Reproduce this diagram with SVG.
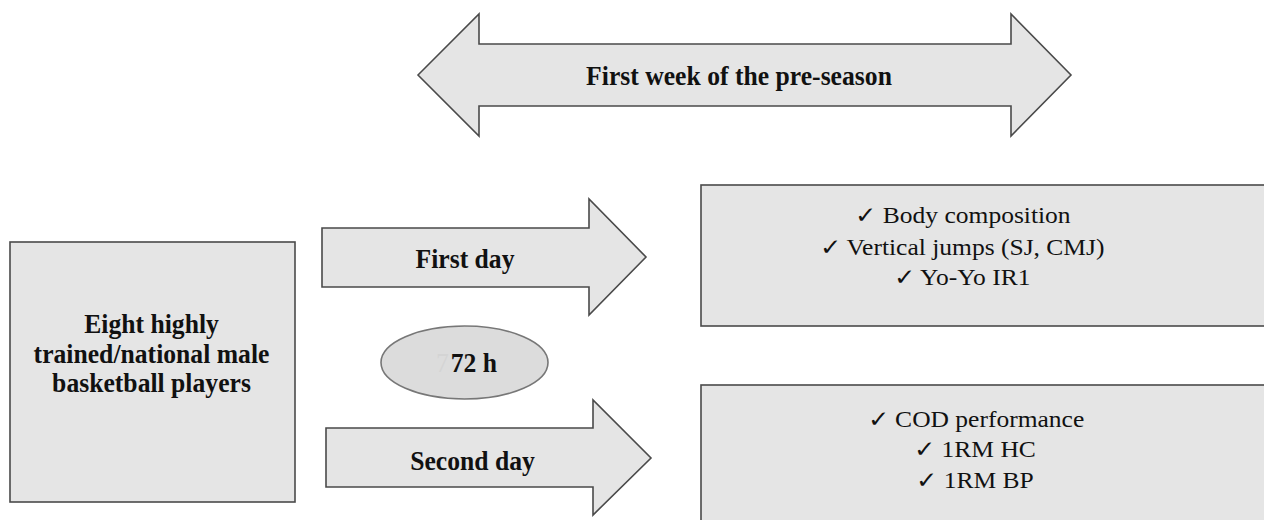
<svg xmlns="http://www.w3.org/2000/svg" width="1264" height="520" viewBox="0 0 1264 520">
<style>
.shape{fill:#e5e5e5;stroke:#4a4a4a;stroke-width:1.6;stroke-linejoin:miter}
.b{font-family:"Liberation Serif","Times New Roman",serif;font-weight:bold;font-size:27px;fill:#111;text-anchor:middle}
.r{font-family:"Liberation Serif","Times New Roman",serif;font-size:23px;fill:#111;text-anchor:middle}
</style>
<rect width="1264" height="520" fill="#fff"/>
<g id="connectors">
<g id="week-arrow">
<polygon class="shape" points="418,75 479,14 479,44 1011,44 1011,14 1071,75 1011,136 1011,106 479,106 479,136"/>
<text class="b" transform="translate(739 85) scale(0.95 1)">First week of the pre-season</text>
</g>
<g id="first-day-arrow">
<polygon class="shape" points="322,228 589,228 589,199 646,257 589,315 589,287 322,287"/>
<text class="b" transform="translate(465 268) scale(0.95 1)">First day</text>
</g>
<g id="second-day-arrow">
<polygon class="shape" points="326,428 593,428 593,400 651,458 593,515 593,487 326,487"/>
<text class="b" transform="translate(472.5 470) scale(0.95 1)">Second day</text>
</g>
</g>
<g id="players">
<rect class="shape" x="10" y="242" width="285" height="260"/>
<text class="b" transform="translate(151.5 333) scale(0.95 1)">Eight highly</text>
<text class="b" transform="translate(151.5 363) scale(0.95 1)">trained/national male</text>
<text class="b" transform="translate(151.5 392) scale(0.95 1)">basketball players</text>
</g>
<g id="interval">
<ellipse class="shape" cx="464.5" cy="362.5" rx="83.5" ry="36.5" style="fill:#dcdcdc;stroke:#777"/>
<text class="b" style="text-anchor:start" transform="translate(436 372) scale(0.95 1)"><tspan fill="#d4d4d4" font-weight="normal">7</tspan><tspan dx="2">72 h</tspan></text>
</g>
<g id="day1-tests">
<rect class="shape" x="701" y="185" width="580" height="141"/>
<text class="r" transform="translate(963 223) scale(1.11 1)">✓  Body composition</text>
<text class="r" transform="translate(962 255) scale(1.11 1)">✓  Vertical jumps (SJ, CMJ)</text>
<text class="r" transform="translate(962 285) scale(1.11 1)">✓  Yo-Yo IR1</text>
</g>
<g id="day2-tests">
<rect class="shape" x="701" y="385" width="580" height="160"/>
<text class="r" transform="translate(976 427) scale(1.11 1)">✓  COD performance</text>
<text class="r" transform="translate(975 457) scale(1.11 1)">✓  1RM HC</text>
<text class="r" transform="translate(975 488) scale(1.11 1)">✓  1RM BP</text>
</g>
</svg>
